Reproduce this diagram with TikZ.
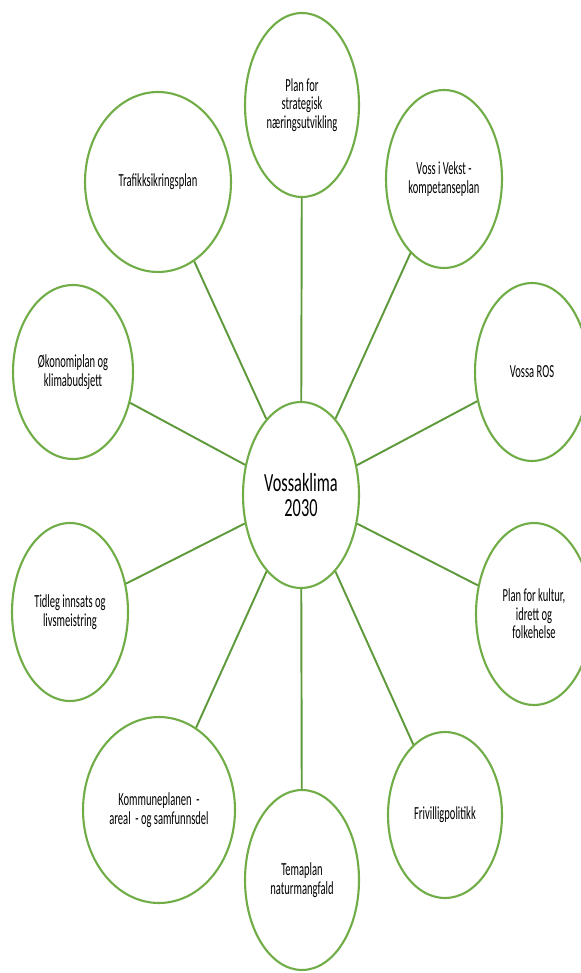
\documentclass[tikz,border=0pt]{standalone}
\usepackage{fontspec}
\setmainfont{Carlito}
\usepackage{graphicx}
\usetikzlibrary{shapes.geometric}

\definecolor{ringgreen}{HTML}{70AD47}
\definecolor{spokegreen}{HTML}{5E9A3B}

% tall, narrow text lines (rows split by \\)
\newcommand{\tallt}[2][1.75]{\scalebox{1}[#1]{\vbox{\lineskiplimit=-\maxdimen\let\\\cr
  \halign{\hfil##\hfil\cr#2\crcr}}}}

\begin{document}
\begin{tikzpicture}[x=0.02cm, y=-0.02cm,
        plan/.style={ellipse, draw=ringgreen, line width=1.2pt, fill=white, inner sep=0pt, font=\fontsize{6}{6}\selectfont},
        hub/.style={plan, font=\fontsize{9.3}{9}\selectfont},
        spoke/.style={draw=spokegreen, line width=1.1pt}
    ]
        \useasboundingbox (0,0) rectangle (581,973);

        % Centre node
        \node[hub, minimum width=2.32cm, minimum height=3.72cm] (hub) at (301,495) {\tallt[1.6]{Vossaklima\\2030}};

        % Plans round the centre, clockwise from the top
        \node[plan, minimum width=2.28cm, minimum height=3.68cm] (naering) at (302,105) {\tallt{Plan for\\strategisk\\næringsutvikling}};
        \node[plan, minimum width=2.32cm, minimum height=3.56cm] (vekst) at (444,179) {\tallt{Voss i Vekst -\\kompetanseplan}};
        \node[plan, minimum width=2.28cm, minimum height=3.56cm] (ros) at (532,372) {\tallt{Vossa ROS}};
        \node[plan, minimum width=2.32cm, minimum height=3.64cm] (kultur) at (534,614) {\tallt{Plan for kultur,\\idrett og\\folkehelse}};
        \node[plan, minimum width=2.28cm, minimum height=3.32cm] (frivillig) at (445,815) {\tallt{Frivilligpolitikk}};
        \node[plan, minimum width=2.28cm, minimum height=3.60cm] (natur) at (302,880) {\tallt{Temaplan\\naturmangfald}};
        \node[plan, minimum width=3.04cm, minimum height=3.72cm] (kommune) at (159,810) {\tallt{Kommuneplanen~~-\\areal~~- og samfunnsdel}};
        \node[plan, minimum width=2.32cm, minimum height=3.56cm] (tidleg) at (70,612) {\tallt{Tidleg innsats og\\livsmeistring}};
        \node[plan, minimum width=2.40cm, minimum height=3.48cm] (okonomi) at (73,372) {\tallt{Økonomiplan og\\klimabudsjett}};
        \node[plan, minimum width=2.92cm, minimum height=3.60cm] (trafikk) at (158,182) {\tallt{Trafikksikringsplan}};

        % Spokes
        \foreach \p in {naering, vekst, ros, kultur, frivillig, natur, kommune, tidleg, okonomi, trafikk}
            \draw[spoke] (hub) -- (\p);

    \end{tikzpicture}
\end{document}
